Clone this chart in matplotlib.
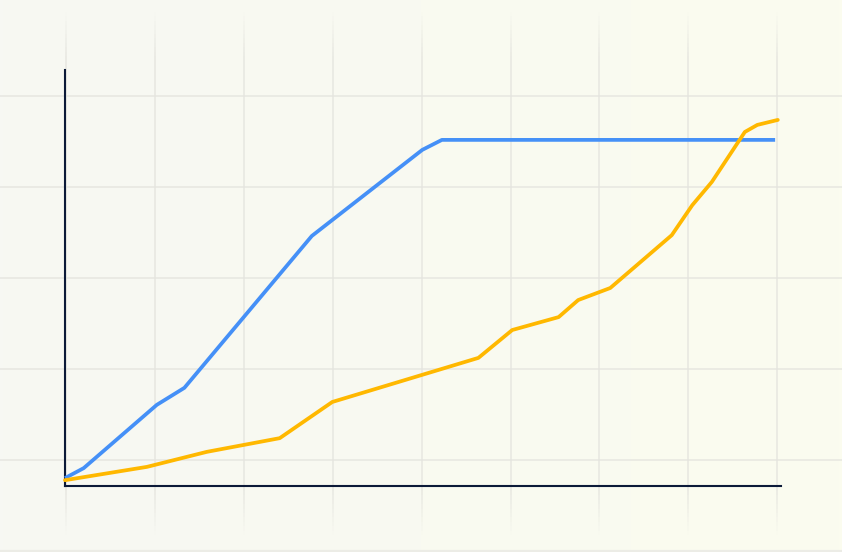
import numpy as np
import matplotlib
matplotlib.use("Agg")
import matplotlib.pyplot as plt
from matplotlib.colors import LinearSegmentedColormap, to_rgba
from matplotlib.collections import LineCollection

# ---- data ----
blue_x = [0.0, 0.21, 1.03, 1.34, 2.77, 4.01, 4.23, 7.97]
blue_y = [1.9, 4.3, 19.5, 23.6, 60.1, 80.8, 83.2, 83.2]

yellow_x = [0.0, 0.92, 1.59, 2.41, 3.00, 4.64, 5.02, 5.54, 5.76, 6.12, 6.81, 7.04, 7.26, 7.63, 7.77, 8.00]
yellow_y = [1.4, 4.6, 8.2, 11.5, 20.2, 30.8, 37.5, 40.6, 44.7, 47.6, 60.3, 67.5, 73.1, 85.1, 86.8, 88.0]

BLUE = "#4590f7"
YELLOW = "#ffb800"
AXIS = "#0c1a38"
GRID = "#e4e4de"

W, H = 842, 552
fig = plt.figure(figsize=(W / 100, H / 100), dpi=100)

# ---- background "paper" with gradient and grid ----
bg = fig.add_axes([0, 0, 1, 1], zorder=0)
bg.set_xlim(0, W)
bg.set_ylim(H, 0)
bg.axis("off")
cmap = LinearSegmentedColormap.from_list("paper", ["#f7f8f3", "#fbfcef"])
bg.imshow(np.linspace(0, 1, 256).reshape(1, -1), cmap=cmap, aspect="auto",
          extent=[0, W, H, 0], zorder=0)

# vertical grid lines fading in/out at their ends
ys = np.linspace(12, 535, 120)
base = np.array(to_rgba(GRID))
for gx in np.arange(66, W, 88.9):
    segs, cols = [], []
    for y0, y1 in zip(ys[:-1], ys[1:]):
        ym = 0.5 * (y0 + y1)
        a = min(1.0, (ym - 12) / 45, (535 - ym) / 45)
        c = base.copy()
        c[3] = max(0.0, a) * 0.8
        segs.append([(gx, y0), (gx, y1)])
        cols.append(c)
    bg.add_collection(LineCollection(segs, colors=cols, linewidths=1.2, zorder=1))
for gy in np.arange(96, 470, 91):
    bg.plot([0, W], [gy, gy], color=GRID, lw=1.2, alpha=0.8, zorder=1)
bg.plot([0, W], [550.5, 550.5], color="#ecece6", lw=1.6, zorder=1)

# ---- chart axes ----
ax = fig.add_axes([65 / W, (H - 486) / H, (781 - 65) / W, (486 - 70) / H], zorder=2)
ax.set_facecolor("none")
ax.set_xlim(0, 8.036)
ax.set_ylim(0, 100)
for s in ["top", "right"]:
    ax.spines[s].set_visible(False)
for s in ["left", "bottom"]:
    ax.spines[s].set_color(AXIS)
    ax.spines[s].set_linewidth(1.5)
ax.set_xticks([])
ax.set_yticks([])

ax.plot(blue_x, blue_y, color=BLUE, lw=2.7, solid_joinstyle="round",
        solid_capstyle="butt", clip_on=False, zorder=3)
ax.plot(yellow_x, yellow_y, color=YELLOW, lw=2.7, solid_joinstyle="round",
        solid_capstyle="round", clip_on=False, zorder=3)

fig.savefig("out.png", dpi=100)
